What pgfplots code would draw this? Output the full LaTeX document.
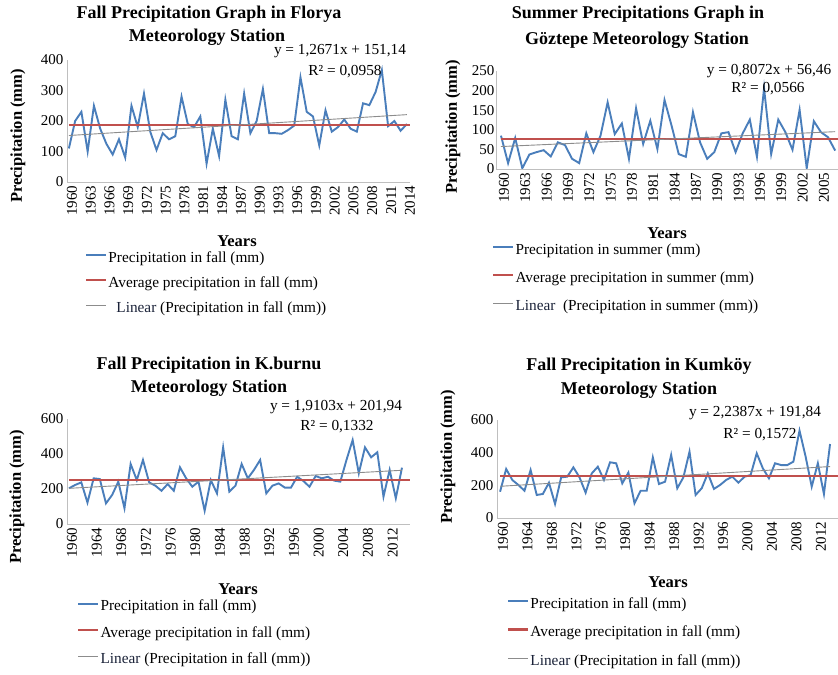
\documentclass[border=0pt]{standalone}
\usepackage{fontspec}
\setmainfont{Liberation Serif}
\usepackage{pgfplots}
\pgfplotsset{compat=1.18}
\definecolor{xlblue}{HTML}{4A7EBB}
\definecolor{xlred}{HTML}{C0504D}
\definecolor{trendgray}{HTML}{8C8C8C}
\definecolor{axisgray}{HTML}{BFBFBF}
\definecolor{linnavy}{HTML}{1A2238}
\newcommand{\tk}{\fontsize{15bp}{15bp}\selectfont}
\newcommand{\lgf}{\fontsize{15.3bp}{15.3bp}\selectfont}
\newcommand{\ttl}{\fontsize{18bp}{18bp}\selectfont\bfseries}
\newcommand{\ylb}{\fontsize{16.5bp}{16.5bp}\selectfont\bfseries}

\pgfplotsset{
  panel/.style={
    scale only axis, anchor=south west,
    axis x line*=bottom, axis y line*=left,
    axis line style={draw=axisgray, line width=0.8bp},
    major tick length=0pt,
    tick label style={font=\tk},
    /pgf/number format/assume math mode=true,
    /pgf/number format/1000 sep={},
    xticklabel style={rotate=90, anchor=east, yshift=-3bp},
    ymin=0,
    legend cell align=left,
    legend style={draw=none, fill=none, inner sep=0pt, font=\lgf,
      nodes={inner sep=1bp, text height=10bp, text depth=4bp},
      anchor=north west},
    legend image code/.code={\draw[##1] (0bp,4bp) -- (20bp,4bp);},
  },
  obs/.style={xlblue, line width=1.9bp},
  avg/.style={xlred, line width=2.4bp},
  trend/.style={trendgray, line width=0.9bp},
}

\begin{document}
\begin{tikzpicture}
\useasboundingbox (0,0) rectangle (838bp,675bp);

% ---- Florya (fall)
\begin{axis}[panel, at={(67bp,493bp)}, width=343bp, height=122bp,
  xmin=1959.7, xmax=2014.5, ymax=400, ytick={0,100,...,400},
  xtick={1960,1963,...,2014},
  legend style={at={(axis description cs:0.052,-0.565)}, row sep=9bp}]
\addplot[obs] table[row sep=\\, header=false, x expr={1960+\coordindex}, y index=0] {
110\\200\\230\\100\\250\\175\\125\\90\\140\\80\\
250\\180\\290\\165\\105\\160\\140\\150\\280\\190\\
180\\215\\60\\175\\85\\270\\150\\140\\290\\160\\
200\\305\\160\\160\\158\\170\\185\\343\\230\\215\\
120\\235\\165\\180\\205\\175\\165\\258\\252\\295\\
367\\183\\200\\168\\190\\};
\addlegendentry{Precipitation in fall (mm)}
\addplot[avg] coordinates {(1960,187) (2014.5,187)};
\addlegendentry{Average precipitation in fall (mm)}
\addplot[trend] coordinates {(1960,152.41) (2014,220.83)};
\addlegendentry{\hspace{8bp}{\color{linnavy}Linear} (Precipitation in fall (mm))}
\end{axis}

% ---- Goztepe (summer)
\begin{axis}[panel, at={(496bp,506bp)}, width=342bp, height=98bp,
  xmin=1959.3, xmax=2007.4, ymax=250, ytick={0,50,...,250},
  xtick={1960,1963,...,2005},
  yticklabel style={xshift=2bp},
  legend style={at={(axis description cs:-0.012,-0.755)}, row sep=12bp}]
\addplot[obs] table[row sep=\\, header=false, x expr={1960+\coordindex}, y index=0] {
85\\15\\79\\2\\37\\43\\48\\32\\68\\61\\
26\\15\\91\\43\\85\\170\\89\\116\\26\\155\\
64\\123\\51\\176\\110\\38\\31\\145\\68\\26\\
43\\91\\94\\43\\91\\126\\31\\206\\38\\126\\
94\\49\\151\\2\\122\\94\\81\\47\\};
\addlegendentry{Precipitation in summer (mm)}
\addplot[avg] coordinates {(1960,77) (2007.4,77)};
\addlegendentry{Average precipitation in summer (mm)}
\addplot[trend] coordinates {(1960,57.27) (2007,95.21)};
\addlegendentry{{\color{linnavy}Linear}\ \ (Precipitation in summer (mm))}
\end{axis}

% ---- K.burnu (fall)
\begin{axis}[panel, at={(67bp,151bp)}, width=343bp, height=105bp,
  xmin=1959.68, xmax=2015.3, ymax=600, ytick={0,200,...,600},
  xtick={1960,1964,...,2012},
  legend style={at={(axis description cs:0.029,-0.72)}, row sep=10.5bp}]
\addplot[obs] table[row sep=\\, header=false, x expr={1960+\coordindex}, y index=0] {
204\\223\\238\\122\\261\\257\\118\\166\\242\\90\\
343\\251\\366\\238\\219\\190\\228\\190\\324\\261\\
213\\242\\76\\251\\175\\438\\185\\219\\343\\261\\
309\\366\\175\\219\\232\\208\\208\\270\\246\\213\\
274\\261\\270\\248\\242\\366\\480\\290\\438\\381\\
410\\156\\309\\147\\322\\};
\addlegendentry{Precipitation in fall (mm)}
\addplot[avg] coordinates {(1960,251) (2015.3,251)};
\addlegendentry{Average precipitation in fall (mm)}
\addplot[trend] coordinates {(1960,203.85) (2014,307.01)};
\addlegendentry{{\color{linnavy}Linear} (Precipitation in fall (mm))}
\end{axis}

% ---- Kumkoy (fall)
\begin{axis}[panel, at={(497bp,157bp)}, width=341bp, height=98bp,
  xmin=1959.5, xmax=2015.3, ymax=600, ytick={0,200,...,600},
  xtick={1960,1964,...,2012},
  legend style={at={(axis description cs:0.029,-0.806)}, row sep=12.5bp}]
\addplot[obs] table[row sep=\\, header=false, x expr={1960+\coordindex}, y index=0] {
161\\300\\233\\202\\167\\294\\141\\147\\216\\86\\
249\\253\\310\\249\\155\\273\\314\\233\\341\\335\\
212\\278\\90\\167\\167\\371\\208\\222\\386\\182\\
249\\406\\141\\182\\273\\178\\202\\233\\253\\216\\
253\\263\\396\\304\\243\\335\\324\\324\\345\\535\\
376\\192\\335\\147\\453\\};
\addlegendentry{Precipitation in fall (mm)}
\addplot[avg] coordinates {(1960,258) (2015.3,258)};
\addlegendentry{Average precipitation in fall (mm)}
\addplot[trend] coordinates {(1960,194.08) (2014,314.97)};
\addlegendentry{{\color{linnavy}Linear} (Precipitation in fall (mm))}
\end{axis}

% ---- titles, equations, axis titles
\begin{scope}[every node/.style={inner sep=0pt}]
\node[font=\ttl] at (209bp,661bp) {Fall Precipitation Graph in Florya};
\node[font=\ttl] at (207bp,638bp) {Meteorology Station};
\node[font=\lgf] at (340bp,624bp) {y = 1,2671x + 151,14};
\node[font=\lgf] at (345bp,603bp) {R² = 0,0958};
\node[font=\ylb, rotate=90] at (18bp,539bp) {Precipitation (mm)};
\node[font=\ylb] at (237bp,434bp) {Years};

\node[font=\ttl] at (638bp,661bp) {Summer Precipitations Graph in};
\node[font=\ttl] at (637bp,635bp) {Göztepe Meteorology Station};
\node[font=\lgf] at (769bp,604bp) {y = 0,8072x + 56,46};
\node[font=\lgf] at (768bp,586bp) {R² = 0,0566};
\node[font=\ylb, rotate=90] at (453bp,548bp) {Precipitation (mm)};
\node[font=\ylb] at (667bp,442bp) {Years};

\node[font=\ttl] at (209bp,310bp) {Fall Precipitation in K.burnu};
\node[font=\ttl] at (209bp,287bp) {Meteorology Station};
\node[font=\lgf] at (336bp,268bp) {y = 1,9103x + 201,94};
\node[font=\lgf] at (337bp,248bp) {R² = 0,1332};
\node[font=\ylb, rotate=90] at (17bp,178bp) {Precipitation (mm)};
\node[font=\ylb] at (238bp,86bp) {Years};

\node[font=\ttl] at (639bp,309bp) {Fall Precipitation in Kumköy};
\node[font=\ttl] at (639bp,285bp) {Meteorology Station};
\node[font=\lgf] at (755bp,262bp) {y = 2,2387x + 191,84};
\node[font=\lgf] at (760bp,240bp) {R² = 0,1572};
\node[font=\ylb, rotate=90] at (448bp,218bp) {Precipitation (mm)};
\node[font=\ylb] at (668bp,93bp) {Years};
\end{scope}
\end{tikzpicture}
\end{document}
